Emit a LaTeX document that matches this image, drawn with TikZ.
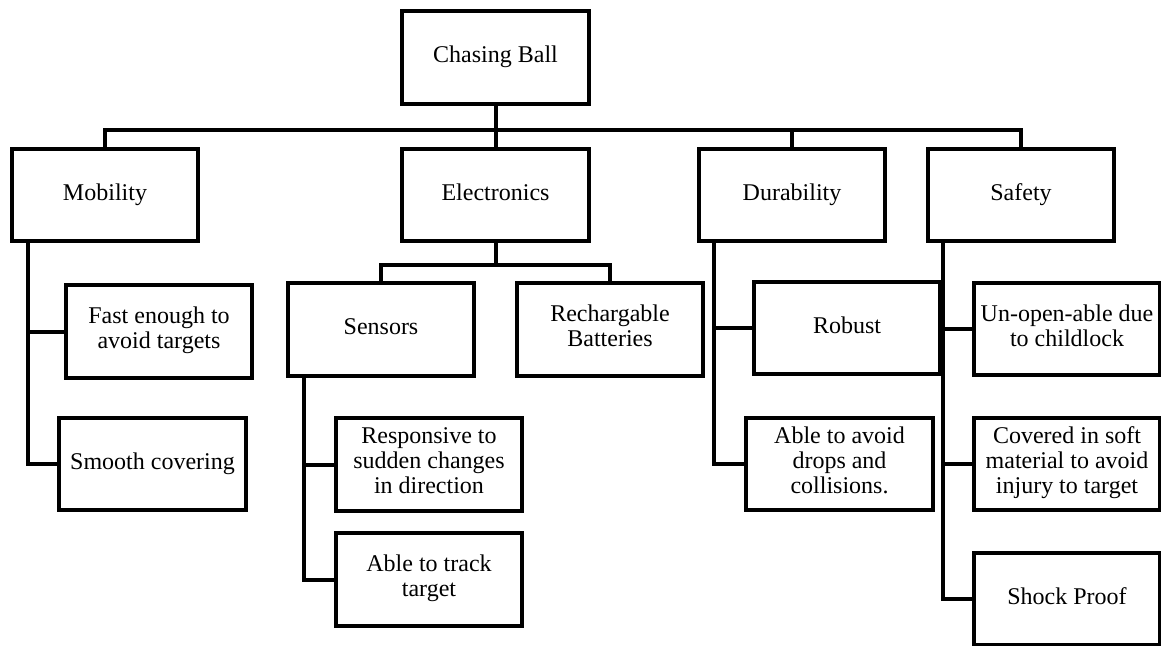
\documentclass[tikz,border=0pt]{standalone}
\usepackage{fontspec}
\setmainfont{Liberation Serif}
\begin{document}
\begin{tikzpicture}[x=1pt,y=-1pt,
  box/.style={draw, line width=4pt, minimum width=186.5pt, minimum height=92.5pt,
    inner sep=0pt, align=center, font=\fontsize{24}{25}\selectfont,
    execute at begin node={\strut}, execute at end node={\strut}},
  conn/.style={line width=4pt, line join=miter}]
\useasboundingbox[fill=white] (0,0) rectangle (1161,645);
% top
\node[box] (cb) at (495.5,57.5) {Chasing Ball};
% level 2
\node[box] (mob) at (105,195) {Mobility};
\node[box] (el) at (495.5,195) {Electronics};
\node[box] (dur) at (792,195) {Durability};
\node[box] (saf) at (1021,195) {Safety};
% mobility children
\node[box] (fast) at (159,331.5) {Fast enough to\\avoid targets};
\node[box] (smooth) at (152.5,464) {Smooth covering};
% electronics children
\node[box] (sens) at (381,329.5) {Sensors};
\node[box] (rech) at (610,329.5) {Rechargable\\Batteries};
\node[box] (resp) at (429,464.5) {Responsive to\\sudden changes\\in direction};
\node[box] (track) at (429,579.5) {Able to track\\target};
% durability children
\node[box] (robust) at (847,328) {Robust};
\node[box] (avoid) at (839.5,464) {Able to avoid\\drops and\\collisions.};
% safety children
\node[box] (unopen) at (1067,329) {Un-open-able due\\to childlock};
\node[box] (covered) at (1067,464) {Covered in soft\\material to avoid\\injury to target};
\node[box] (shock) at (1067,599) {Shock Proof};
% main bus
\draw[conn] (cb.south) -- ++(0,24) coordinate (bus);
\draw[conn] (bus) -| (mob.north);
\draw[conn] (bus) -| (el.north);
\draw[conn] (bus) -| (dur.north);
\draw[conn] (bus) -| (saf.north);
% electronics bus
\draw[conn] (el.south) -- ++(0,22) coordinate (ebus);
\draw[conn] (ebus) -| (sens.north);
\draw[conn] (ebus) -| (rech.north);
% spines
\draw[conn] ([xshift=18.5pt]mob.south west) |- (fast.west);
\draw[conn] ([xshift=18.5pt]mob.south west) |- (smooth.west);
\draw[conn] ([xshift=18pt]sens.south west) |- (resp.west);
\draw[conn] ([xshift=18pt]sens.south west) |- (track.west);
\draw[conn] ([xshift=17pt]dur.south west) |- (robust.west);
\draw[conn] ([xshift=17pt]dur.south west) |- (avoid.west);
\draw[conn] ([xshift=17pt]saf.south west) |- (unopen.west);
\draw[conn] ([xshift=17pt]saf.south west) |- (covered.west);
\draw[conn] ([xshift=17pt]saf.south west) |- (shock.west);
\end{tikzpicture}
\end{document}
